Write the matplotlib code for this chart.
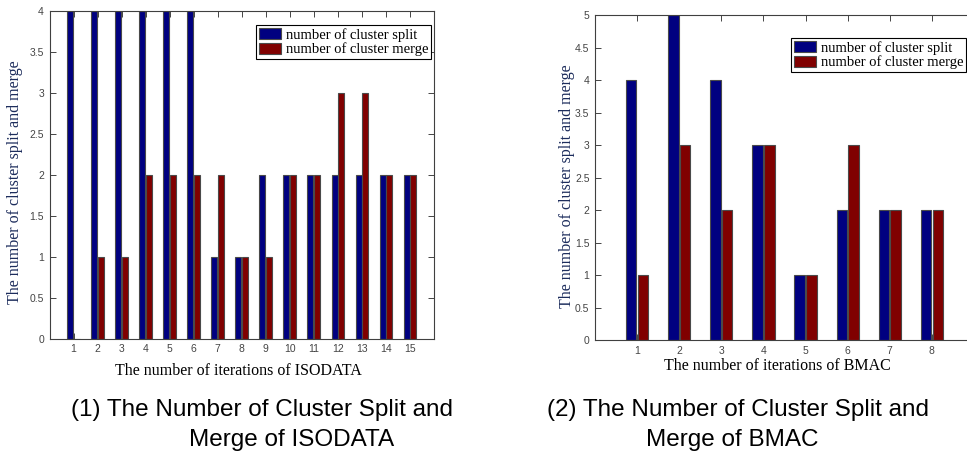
import matplotlib
matplotlib.use("Agg")
import matplotlib.pyplot as plt
import numpy as np
from matplotlib.ticker import FuncFormatter

# ---- data ----
iso_iterations = list(range(1, 16))
iso_split = [4, 4, 4, 4, 4, 4, 1, 1, 2, 2, 2, 2, 2, 2, 2]
iso_merge = [0, 1, 1, 2, 2, 2, 2, 1, 1, 2, 2, 3, 3, 2, 2]

bmac_iterations = list(range(1, 9))
bmac_split = [4, 5, 4, 3, 1, 2, 2, 2]
bmac_merge = [1, 3, 2, 3, 1, 3, 2, 2]

series_labels = ["number of cluster split", "number of cluster merge"]
iso_xlabel = "The number of iterations of ISODATA"
bmac_xlabel = "The number of iterations of BMAC"
ylabel = "The number of cluster split and merge"
caption1 = ["(1) The Number of Cluster Split and", "Merge of ISODATA"]
caption2 = ["(2) The Number of Cluster Split and", "Merge of BMAC"]

W, H = 967, 455
fig = plt.figure(figsize=(W / 100, H / 100), dpi=100)

BLUE = "#000080"
RED = "#800000"
SERIF = ["Liberation Serif", "DejaVu Serif"]
SANS = ["Liberation Sans", "DejaVu Sans"]


def px_axes(l, t, r, b):
    return [l / W, 1 - b / H, (r - l) / W, (b - t) / H]


def style_axes(ax, ymax, nx, xlim):
    ax.set_xlim(*xlim)
    ax.set_ylim(0, ymax)
    ax.set_xticks(range(1, nx + 1))
    ax.set_yticks(np.arange(0, ymax + 0.01, 0.5))
    ax.yaxis.set_major_formatter(FuncFormatter(lambda v, p: "%g" % v))
    ax.tick_params(direction="in", length=4, width=0.7, colors="#444444",
                   labelsize=7.5, top=True, right=True, pad=4)
    for lab in ax.get_xticklabels() + ax.get_yticklabels():
        lab.set_family(SANS)
    for s in ax.spines.values():
        s.set_color("#404040")
        s.set_linewidth(0.8)


def draw(ax, x, split, merge):
    x = np.asarray(x, dtype=float)
    w = 0.25
    ax.bar(x - 0.14, split, width=w, color=BLUE, edgecolor="#4a4a4a",
           linewidth=0.8, label=series_labels[0], zorder=2)
    ax.bar(x + 0.14, merge, width=w, color=RED, edgecolor="#4a4a4a",
           linewidth=0.8, label=series_labels[1], zorder=2)


def make_legend(ax, right_px, top_px):
    leg = ax.legend(loc="upper right", bbox_to_anchor=(right_px / W, 1 - top_px / H),
                    bbox_transform=fig.transFigure,
                    prop={"family": SERIF, "size": 10.5}, fancybox=False,
                    framealpha=1, edgecolor="black", borderpad=0.2,
                    handlelength=1.5, handleheight=0.8, handletextpad=0.3,
                    labelspacing=0.05, borderaxespad=0)
    leg.get_frame().set_linewidth(0.8)


# ---- left chart ----
ax1 = fig.add_axes(px_axes(49.5, 11, 434, 338.7))
draw(ax1, iso_iterations, iso_split, iso_merge)
style_axes(ax1, 4, 15, (0, 16))
make_legend(ax1, 431, 25)

# ---- right chart ----
ax2 = fig.add_axes(px_axes(595, 15.3, 974, 340))
draw(ax2, bmac_iterations, bmac_split, bmac_merge)
style_axes(ax2, 5, 8, (0, 9))
make_legend(ax2, 966, 38)

# ---- axis labels ----
lab_kw = dict(family=SERIF, fontsize=11.5, ha="center", va="center")
fig.text(238 / W, 1 - 371 / H, iso_xlabel, color="black", **lab_kw)
fig.text(777 / W, 1 - 366 / H, bmac_xlabel, color="black", **lab_kw)
fig.text(15 / W, 1 - 182 / H, ylabel, rotation=90, color="#1c2c5c", **lab_kw)
fig.text(567 / W, 1 - 186 / H, ylabel, rotation=90, color="#1c2c5c", **lab_kw)

# ---- captions ----
cap_kw = dict(family=SANS, fontsize=17.5, ha="center", va="center", color="black")
fig.text(262 / W, 1 - 410 / H, caption1[0], **cap_kw)
fig.text(292 / W, 1 - 440 / H, caption1[1], **cap_kw)
fig.text(738 / W, 1 - 410 / H, caption2[0], **cap_kw)
fig.text(732 / W, 1 - 440 / H, caption2[1], **cap_kw)

fig.savefig("out.png", dpi=100)
